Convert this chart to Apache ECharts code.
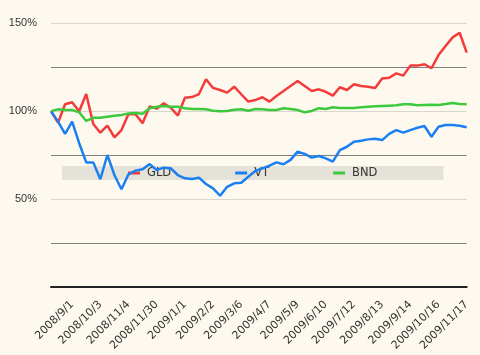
<!DOCTYPE html>
<html>
<head>
<meta charset="utf-8">
<script src="https://cdn.jsdelivr.net/npm/echarts@6/dist/echarts.min.js"></script>
<style>
html,body{margin:0;padding:0;background:#fdf9ef;}
#main{width:480px;height:355px;}
</style>
</head>
<body>
<div id="main"></div>
<script>
const categories = [
  '2008/8/8','2008/8/16','2008/8/24','2008/9/1','2008/9/9','2008/9/17','2008/9/25','2008/10/3',
  '2008/10/11','2008/10/19','2008/10/27','2008/11/4','2008/11/10','2008/11/17','2008/11/23','2008/11/30',
  '2008/12/8','2008/12/16','2008/12/24','2009/1/1','2009/1/9','2009/1/17','2009/1/25','2009/2/2',
  '2009/2/10','2009/2/18','2009/2/26','2009/3/6','2009/3/14','2009/3/22','2009/3/30','2009/4/7',
  '2009/4/15','2009/4/23','2009/5/1','2009/5/9','2009/5/17','2009/5/25','2009/6/2','2009/6/10',
  '2009/6/18','2009/6/26','2009/7/4','2009/7/12','2009/7/20','2009/7/28','2009/8/5','2009/8/13',
  '2009/8/21','2009/8/29','2009/9/6','2009/9/14','2009/9/22','2009/9/30','2009/10/8','2009/10/16',
  '2009/10/24','2009/11/1','2009/11/9','2009/11/17'
];
const seriesNames = ['GLD', 'VT', 'BND'];
const gld = [
  100.0, 93.4, 103.9, 105.0, 99.9, 109.7, 92.7, 87.7, 91.7, 85.1,
  89.2, 98.3, 98.2, 93.1, 102.7, 101.4, 104.4, 101.9, 97.4, 107.6,
  108.0, 109.7, 118.1, 113.2, 112.0, 110.5, 113.9, 109.6, 105.4, 106.3,
  107.9, 105.4, 108.6, 111.4, 114.3, 117.1, 114.3, 111.4, 112.4, 111.0,
  108.8, 113.6, 112.0, 115.3, 114.3, 113.9, 113.2, 118.5, 119.0, 121.5,
  120.2, 125.9, 125.9, 126.7, 124.4, 131.9, 137.1, 142.0, 144.6, 133.3
];
const vt = [
  100.0, 94.0, 87.0, 94.0, 81.7, 70.8, 70.8, 61.2, 75.0, 63.6,
  55.5, 64.0, 66.1, 66.9, 69.8, 66.5, 67.8, 67.4, 63.6, 61.7,
  61.3, 62.1, 58.5, 56.0, 51.8, 56.9, 58.9, 59.2, 62.6, 65.9,
  67.4, 68.9, 70.8, 69.7, 72.2, 76.9, 75.6, 73.5, 74.4, 73.1,
  71.2, 77.8, 79.7, 82.6, 83.1, 83.9, 84.3, 83.5, 87.0, 89.2,
  87.7, 89.2, 90.5, 91.5, 85.4, 91.1, 92.1, 92.1, 91.7, 90.8
];
const bnd = [
  100.0, 101.0, 100.6, 100.6, 99.3, 94.4, 96.2, 96.2, 96.8, 97.4,
  97.8, 98.7, 98.9, 98.5, 101.6, 102.5, 102.9, 102.5, 102.5, 101.6,
  101.2, 101.2, 101.0, 100.2, 99.9, 100.1, 100.8, 101.0, 100.2, 101.2,
  101.0, 100.6, 100.6, 101.6, 101.2, 100.6, 99.3, 100.1, 101.6, 101.2,
  102.2, 101.8, 101.8, 101.8, 102.2, 102.5, 102.7, 102.9, 103.1, 103.3,
  103.9, 103.9, 103.3, 103.5, 103.6, 103.5, 104.0, 104.6, 104.0, 103.9
];
const yTickLabels = [50, 100, 150];
const colors = ['#f43b3b', '#1a80f2', '#3dc93d'];

const chart = echarts.init(document.getElementById('main'), null, {renderer: 'canvas'});
chart.setOption({
  backgroundColor: '#fdf9ef',
  animation: false,
  color: colors,
  grid: {left: 51, right: 13.3, top: 23.3, bottom: 68.3, containLabel: false},
  legend: {
    data: seriesNames,
    left: 62,
    top: 166,
    z: 1,
    backgroundColor: '#e5e2d9',
    padding: [1, 66, 1, 66],
    itemGap: 64,
    itemWidth: 12,
    itemHeight: 3,
    icon: 'rect',
    textStyle: {color: '#333', fontSize: 11.5, fontFamily: 'DejaVu Sans', padding: [0, 0, 0, 2]}
  },
  xAxis: {
    type: 'category',
    data: categories,
    boundaryGap: false,
    axisLine: {lineStyle: {color: '#222', width: 2}},
    axisTick: {show: false},
    splitLine: {show: false},
    axisLabel: {
      rotate: 45,
      interval: (i) => i % 4 === 3,
      margin: 16,
      color: '#333',
      fontSize: 11,
      fontFamily: 'DejaVu Sans'
    }
  },
  yAxis: {
    type: 'value',
    min: 0,
    max: 150,
    interval: 25,
    axisLine: {show: false},
    axisTick: {show: false},
    axisLabel: {
      margin: 14,
      color: '#333',
      fontSize: 11,
      fontFamily: 'Liberation Sans',
      formatter: (v) => yTickLabels.indexOf(v) >= 0 ? v + '%' : ''
    },
    splitLine: {lineStyle: {color: ['#d9d6cc', '#7f7f7f'], width: 1}}
  },
  series: [
    {name: seriesNames[0], type: 'line', data: gld, showSymbol: false, lineStyle: {width: 2.5}, z: 3},
    {name: seriesNames[1], type: 'line', data: vt, showSymbol: false, lineStyle: {width: 2.5}, z: 3},
    {name: seriesNames[2], type: 'line', data: bnd, showSymbol: false, lineStyle: {width: 2.5}, z: 3}
  ]
});
</script>
</body>
</html>
